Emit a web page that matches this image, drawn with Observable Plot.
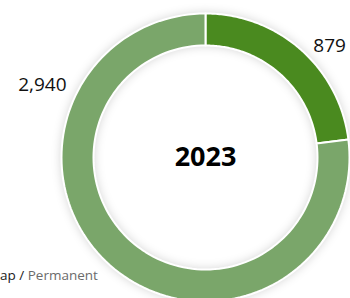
<!DOCTYPE html>
<html>
<head>
<meta charset="utf-8">
<script src="https://cdn.jsdelivr.net/npm/d3@7"></script>
<script src="https://cdn.jsdelivr.net/npm/@observablehq/plot@0.6"></script>
<style>
  html, body { margin: 0; padding: 0; background: #fff; }
  #wrap { position: relative; width: 350px; height: 298px; overflow: hidden; font-family: "Open Sans", sans-serif; }
  #legend { position: absolute; left: 0px; top: 266px; font-size: 13.5px; color: #1a1a1a; white-space: nowrap; }
  #legend .perm { color: #6b6b6b; }
  g[aria-label="line"] { filter: drop-shadow(0 0 5px rgba(0,0,0,0.16)); }
</style>
</head>
<body>
<div id="wrap"><div id="legend">ap / <span class="perm">Permanent</span></div></div>
<script>
// Data
const categories = ["Temporary", "Permanent"];
const values = [879, 2940];
const labels = ["879", "2,940"];
const colors = ["#4a8a1f", "#7aa66a"];
const centerLabel = "2023";

// Layout (pixels)
const W = 350, H = 298, cx = 205, cy = 157, R = 144, r0 = 112;
const labelAngles = [48, 294];   // degrees clockwise from top
const labelRadii = [1.16, 1.24]; // relative to outer radius

const pie = d3.pie().sort(null).value(d => d.value);
const arcs = pie(categories.map((c, i) => ({category: c, value: values[i], color: colors[i], label: labels[i]})));

const inner = r0 / R;
const pts = [];
arcs.forEach(a => {
  const n = 120;
  for (let k = 0; k <= n; k++) {
    const t = a.startAngle + (a.endAngle - a.startAngle) * k / n;
    pts.push({category: a.data.category, x: Math.sin(t), y: Math.cos(t)});
  }
  for (let k = n; k >= 0; k--) {
    const t = a.startAngle + (a.endAngle - a.startAngle) * k / n;
    pts.push({category: a.data.category, x: inner * Math.sin(t), y: inner * Math.cos(t)});
  }
  pts.push({category: a.data.category, x: Math.sin(a.startAngle), y: Math.cos(a.startAngle)});
});

const labelData = arcs.map((a, i) => {
  const t = labelAngles[i] * Math.PI / 180;
  return {text: a.data.label, x: labelRadii[i] * Math.sin(t), y: labelRadii[i] * Math.cos(t)};
});

const chart = Plot.plot({
  width: W, height: H,
  margin: 0,
  x: {domain: [-cx / R, (W - cx) / R], axis: null},
  y: {domain: [(cy - H) / R, cy / R], axis: null},
  color: {domain: categories, range: colors},
  style: {fontFamily: "Open Sans, sans-serif", background: "transparent", overflow: "visible"},
  marks: [
    Plot.line(pts, {x: "x", y: "y", z: "category", fill: "category", stroke: "#fff", strokeWidth: 2, curve: "linear"}),
    Plot.text(labelData, {x: "x", y: "y", text: "text", fontSize: 19, fill: "#111", textAnchor: "middle"}),
    Plot.text([centerLabel], {x: () => 0, y: () => 0, text: d => d, fontSize: 27, fontWeight: "bold", fill: "#000", dy: 0})
  ]
});
document.getElementById("wrap").insertBefore(chart, document.getElementById("legend"));
</script>
</body>
</html>
